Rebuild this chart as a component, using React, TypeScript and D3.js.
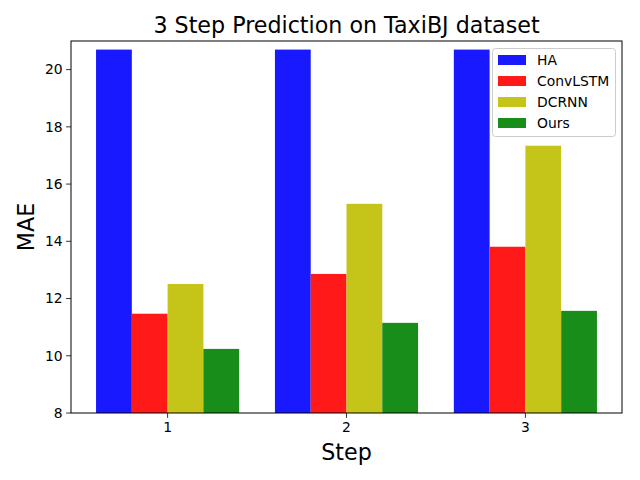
import React from "react";
import * as d3 from "d3";

const steps = [1, 2, 3];
const seriesNames = ["HA", "ConvLSTM", "DCRNN", "Ours"];
const haValues = [20.7, 20.7, 20.7];
const convlstmValues = [11.47, 12.86, 13.81];
const dcrnnValues = [12.51, 15.31, 17.34];
const oursValues = [10.24, 11.15, 11.57];
const yTicks = [8, 10, 12, 14, 16, 18, 20];
const colors = ["#1919ff", "#ff1919", "#c5c519", "#198d19"];

const W = 640, H = 480;
const left = 71, right = 622, top = 41, bottom = 413;
const font = "DejaVu Sans, sans-serif";

export default function App() {
  const series = [haValues, convlstmValues, dcrnnValues, oursValues];
  const barW = 0.2;
  const dataMin = 1 - 0.4, dataMax = 3 + 0.4;
  const pad = (dataMax - dataMin) * 0.05;
  const x = d3.scaleLinear().domain([dataMin - pad, dataMax + pad]).range([left, right]);
  const y = d3.scaleLinear().domain([8, 21]).range([bottom, top]);

  return (
    <svg width={W} height={H} style={{ position: "absolute", left: 0, top: 0 }}>
      <rect x={0} y={0} width={W} height={H} fill="#fff" />
      {series.map((vals, si) =>
        vals.map((v, i) => {
          const x0 = x(steps[i] - 0.4 + si * barW);
          const x1 = x(steps[i] - 0.4 + (si + 1) * barW);
          return (
            <rect key={`${si}-${i}`} x={x0} y={y(v)} width={x1 - x0} height={y(8) - y(v)} fill={colors[si]} />
          );
        })
      )}
      <rect x={left} y={top} width={right - left} height={bottom - top} fill="none" stroke="#000" strokeWidth={1} />
      {yTicks.map((t) => (
        <g key={t}>
          <line x1={left - 4.9} x2={left} y1={y(t)} y2={y(t)} stroke="#000" strokeWidth={0.8} />
          <text x={left - 8.3} y={y(t)} dy="0.35em" textAnchor="end" fontFamily={font} fontSize={13.9} fill="#000">{t}</text>
        </g>
      ))}
      {steps.map((s) => (
        <g key={s}>
          <line x1={x(s)} x2={x(s)} y1={bottom} y2={bottom + 4.9} stroke="#000" strokeWidth={0.8} />
          <text x={x(s)} y={bottom + 8.3} dy="0.76em" textAnchor="middle" fontFamily={font} fontSize={13.9} fill="#000">{s}</text>
        </g>
      ))}
      <text x={(left + right) / 2} y={33} textAnchor="middle" fontFamily={font} fontSize={22.2} fill="#000">3 Step Prediction on TaxiBJ dataset</text>
      <text x={(left + right) / 2} y={460} textAnchor="middle" fontFamily={font} fontSize={22.2} fill="#000">Step</text>
      <text transform={`translate(34,${(top + bottom) / 2}) rotate(-90)`} textAnchor="middle" fontFamily={font} fontSize={22.2} fill="#000">MAE</text>
      <g>
        <rect x={492.5} y={48.5} width={123} height={88} rx={3} fill="#fff" fillOpacity={0.8} stroke="#ccc" strokeWidth={1} />
        {seriesNames.map((n, i) => (
          <g key={n}>
            <rect x={498} y={55 + i * 21} width={28} height={10} fill={colors[i]} />
            <text x={537} y={60 + i * 21} dy="0.36em" fontFamily={font} fontSize={13.9} fill="#000">{n}</text>
          </g>
        ))}
      </g>
    </svg>
  );
}
